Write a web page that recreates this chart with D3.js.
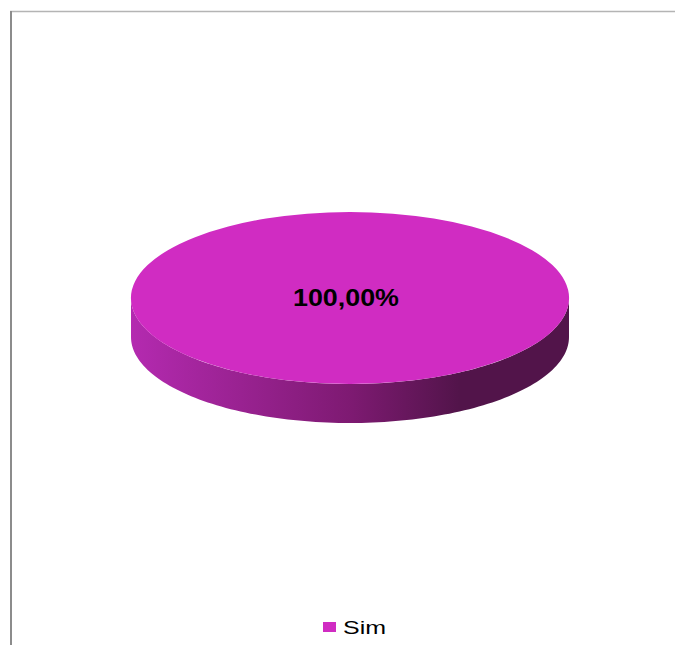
<!DOCTYPE html>
<html>
<head>
<meta charset="utf-8">
<script src="https://cdn.jsdelivr.net/npm/d3@7"></script>
<style>
  html, body { margin: 0; padding: 0; background: #fff; }
  svg { display: block; }
</style>
</head>
<body>
<svg id="chart" width="675" height="645"></svg>
<script>
// Answer categories and their shares (percent)
const categories = ["Sim"];
const values = [100];
const sliceColors = ["#d02cc2"];
const sideStops = [
  ["0%", "#b42ab0"],
  ["50%", "#7e1a72"],
  ["75%", "#52144a"],
  ["100%", "#52144a"]
];

const W = 675, H = 645;
const svg = d3.select("#chart");

// Plot-area frame (top and left edges only)
svg.append("line").attr("x1", 10).attr("x2", W).attr("y1", 11.5).attr("y2", 11.5)
  .attr("stroke", "#b4b4b4").attr("stroke-width", 1.5);
svg.append("line").attr("x1", 11).attr("x2", 11).attr("y1", 11).attr("y2", H)
  .attr("stroke", "#8c8c8c").attr("stroke-width", 2);

// Tilted pie geometry
const cx = 350, cy = 298, rx = 219, ry = 86, depth = 39;
const tilt = ry / rx;

const pie = d3.pie().sort(null).value(d => d)(values);
const total = d3.sum(values);

const defs = svg.append("defs");
const grad = defs.append("linearGradient").attr("id", "sideGrad")
  .attr("gradientUnits", "userSpaceOnUse")
  .attr("x1", cx - rx).attr("x2", cx + rx).attr("y1", 0).attr("y2", 0);
sideStops.forEach(s => grad.append("stop").attr("offset", s[0]).attr("stop-color", s[1]));

// Outer rim point for a pie angle (0 at 12 o'clock, clockwise)
const rim = (a, dy) => [cx + rx * Math.sin(a), cy - ry * Math.cos(a) + dy];

// Visible front wall of each slice
pie.forEach((p, i) => {
  const a0 = Math.max(p.startAngle, Math.PI / 2);
  const a1 = Math.min(p.endAngle, 3 * Math.PI / 2);
  if (a1 <= a0) return;
  const n = 120;
  const angles = d3.range(n + 1).map(k => a0 + (a1 - a0) * k / n);
  const topEdge = angles.map(a => rim(a, 0));
  const bottomEdge = angles.slice().reverse().map(a => rim(a, depth));
  svg.append("path")
    .attr("d", d3.line()(topEdge.concat(bottomEdge)) + "Z")
    .attr("fill", "url(#sideGrad)");
});

// Top faces
const arc = d3.arc().innerRadius(0).outerRadius(rx);
const topG = svg.append("g").attr("transform", `translate(${cx},${cy}) scale(1,${tilt})`);
topG.selectAll("path").data(pie).join("path")
  .attr("d", arc)
  .attr("fill", (d, i) => sliceColors[i % sliceColors.length]);

// Percentage labels
const fmt = v => (v / total * 100).toFixed(2).replace(".", ",") + "%";
pie.forEach((p, i) => {
  const full = p.endAngle - p.startAngle >= 2 * Math.PI - 1e-6;
  const mid = (p.startAngle + p.endAngle) / 2;
  const lx = full ? cx - 4 : cx + rx * 0.6 * Math.sin(mid);
  const ly = full ? cy + 8 : cy - ry * 0.6 * Math.cos(mid) + 8;
  svg.append("text")
    .attr("x", lx).attr("y", ly)
    .attr("text-anchor", "middle")
    .attr("font-family", "Liberation Sans, Arial, sans-serif")
    .attr("font-weight", "bold")
    .attr("font-size", 23)
    .attr("textLength", 106)
    .attr("lengthAdjust", "spacingAndGlyphs")
    .attr("fill", "#000")
    .text(fmt(p.value));
});

// Legend
const legend = svg.append("g").attr("transform", "translate(323,622)");
categories.forEach((c, i) => {
  legend.append("rect").attr("x", 0).attr("y", 0).attr("width", 13).attr("height", 10)
    .attr("fill", sliceColors[i % sliceColors.length]);
  legend.append("text").attr("x", 20).attr("y", 12)
    .attr("font-family", "Liberation Sans, Arial, sans-serif")
    .attr("font-size", 18)
    .attr("textLength", 43)
    .attr("lengthAdjust", "spacingAndGlyphs")
    .attr("fill", "#000")
    .text(c);
});
</script>
</body>
</html>
